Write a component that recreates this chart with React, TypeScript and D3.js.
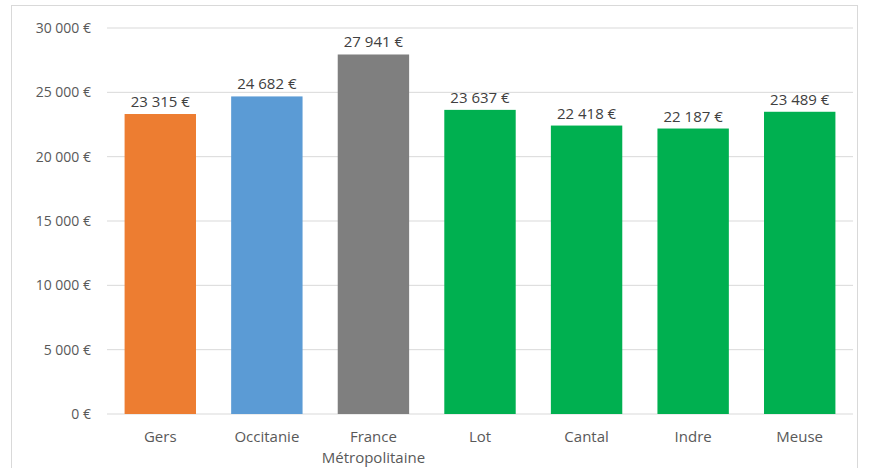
import * as d3 from "d3";

const categories = ["Gers", "Occitanie", "France Métropolitaine", "Lot", "Cantal", "Indre", "Meuse"];
const values = [23315, 24682, 27941, 23637, 22418, 22187, 23489];
const colors = ["#ED7D31", "#5B9BD5", "#7F7F7F", "#00B050", "#00B050", "#00B050", "#00B050"];
const yTicks = [0, 5000, 10000, 15000, 20000, 25000, 30000];

const W = 870;
const H = 468;
const margin = { top: 28, right: 17, bottom: 54, left: 107 };

const fmt = (v: number) => d3.format(",")(v).replace(/,/g, " ") + " €";

export default function App() {
  const x = d3
    .scaleBand()
    .domain(categories)
    .range([margin.left, W - margin.right])
    .paddingInner(0.33)
    .paddingOuter(0.165);
  const y = d3.scaleLinear().domain([0, 30000]).range([H - margin.bottom, margin.top]);
  const font = "Open Sans, sans-serif";

  return (
    <svg
      width={W}
      height={H}
      style={{ position: "absolute", left: 0, top: 0, background: "#fff" }}
      fontFamily={font}
    >
      <rect x={11.5} y={5.5} width={846} height={470} fill="#fff" stroke="#D9D9D9" />
      {yTicks.map((t) => (
        <g key={t}>
          <line x1={margin.left} x2={W - margin.right} y1={y(t)} y2={y(t)} stroke="#D9D9D9" />
          <text x={91} y={y(t)} dy="0.35em" textAnchor="end" fontSize={14} fill="#595959">
            {fmt(t)}
          </text>
        </g>
      ))}
      {categories.map((c, i) => (
        <g key={c}>
          <rect
            x={x(c)}
            y={y(values[i])}
            width={x.bandwidth()}
            height={y(0) - y(values[i])}
            fill={colors[i]}
          />
          <text
            x={(x(c) || 0) + x.bandwidth() / 2}
            y={y(values[i]) - 7}
            textAnchor="middle"
            fontSize={15}
            fill="#404040"
          >
            {fmt(values[i])}
          </text>
          {c.split(" ").map((part, j) => (
            <text
              key={j}
              x={(x(c) || 0) + x.bandwidth() / 2}
              y={442 + j * 21}
              textAnchor="middle"
              fontSize={15}
              fill="#595959"
            >
              {part}
            </text>
          ))}
        </g>
      ))}
    </svg>
  );
}
